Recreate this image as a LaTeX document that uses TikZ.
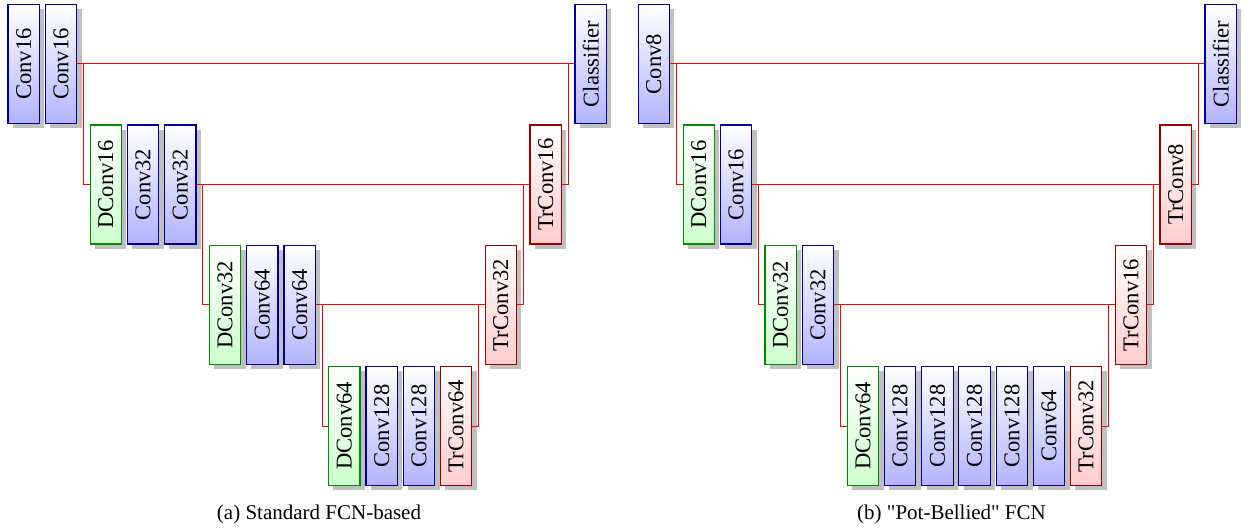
\documentclass[tikz,border=0pt]{standalone}
\usepackage{fontspec}
\setmainfont{Liberation Serif}[Ligatures=TeXOff]
\newfontfamily\tms{Liberation Serif}[Ligatures=TeXOff]
\usetikzlibrary{shadows}
\tikzset{
  blk/.style={rectangle, inner sep=0pt, minimum width=15.7pt, minimum height=59.5pt,
    line width=0.6pt, font=\tms\fontsize{11.3}{13}\selectfont,
    drop shadow={shadow xshift=2.4pt, shadow yshift=-2.4pt, fill=black!25, opacity=1}},
  convb/.style={blk, draw=blue!60!black, top color=white, bottom color=blue!30},
  dconvb/.style={blk, draw=green!55!black, top color=white, bottom color=green!20},
  trb/.style={blk, draw=red!60!black, top color=white, bottom color=red!20},
  conn/.style={draw=red, line width=0.5pt},
  capt/.style={font=\tms\fontsize{10.5}{12}\selectfont},
}
\newcommand{\rt}[1]{\rotatebox{90}{#1}}
\begin{document}
\begin{tikzpicture}[x=0.5pt, y=-0.5pt]
\useasboundingbox (0,0) rectangle (1245,528);
% ---------- (a) ----------
\node[convb]  (a1)   at (23.7,64)   {\rt{Conv16}};
\node[convb]  (a2)   at (61,64)     {\rt{Conv16}};
\node[dconvb] (ad16) at (105.8,184.5) {\rt{DConv16}};
\node[convb]  (a4)   at (143,184.5) {\rt{Conv32}};
\node[convb]  (a5)   at (180.2,184.5) {\rt{Conv32}};
\node[dconvb] (ad32) at (225,305)   {\rt{DConv32}};
\node[convb]  (a7)   at (262.3,305) {\rt{Conv64}};
\node[convb]  (a8)   at (299.7,305) {\rt{Conv64}};
\node[dconvb] (ad64) at (344.3,426) {\rt{DConv64}};
\node[convb]  (a10)  at (381.7,426) {\rt{Conv128}};
\node[convb]  (a11)  at (419,426)   {\rt{Conv128}};
\node[trb]    (atr64) at (456,426)  {\rt{TrConv64}};
\node[trb]    (atr32) at (500.8,305) {\rt{TrConv32}};
\node[trb]    (atr16) at (545.7,184.5) {\rt{TrConv16}};
\node[convb]  (acls) at (590.7,64)  {\rt{Classifier}};
% ---------- (b) ----------
\node[convb]  (b1)   at (653.8,64)  {\rt{Conv8}};
\node[dconvb] (bd16) at (698.8,184.5) {\rt{DConv16}};
\node[convb]  (b3)   at (736,184.5) {\rt{Conv16}};
\node[dconvb] (bd32) at (780.6,305) {\rt{DConv32}};
\node[convb]  (b5)   at (818,305)   {\rt{Conv32}};
\node[dconvb] (bd64) at (863,426)   {\rt{DConv64}};
\node[convb]  (b7)   at (900,426)   {\rt{Conv128}};
\node[convb]  (b8)   at (937.5,426) {\rt{Conv128}};
\node[convb]  (b9)   at (974.5,426) {\rt{Conv128}};
\node[convb]  (b10)  at (1012,426)  {\rt{Conv128}};
\node[convb]  (b11)  at (1049,426)  {\rt{Conv64}};
\node[trb]    (btr32) at (1086,426) {\rt{TrConv32}};
\node[trb]    (btr16) at (1131,305) {\rt{TrConv16}};
\node[trb]    (btr8) at (1175.7,184.5) {\rt{TrConv8}};
\node[convb]  (bcls) at (1220.7,64) {\rt{Classifier}};
% ---------- connectors (a) ----------
\draw[conn] (a2.east) -- (acls.west);
\draw[conn] (a2.east) -- ++(3pt,0) |- (ad16.west);
\draw[conn] (atr16.east) -- ++(3pt,0) |- (acls.west);
\draw[conn] (a5.east) -- (atr16.west);
\draw[conn] (a5.east) -- ++(3pt,0) |- (ad32.west);
\draw[conn] (atr32.east) -- ++(3pt,0) |- (atr16.west);
\draw[conn] (a8.east) -- (atr32.west);
\draw[conn] (a8.east) -- ++(3pt,0) |- (ad64.west);
\draw[conn] (atr64.east) -- ++(3pt,0) |- (atr32.west);
% ---------- connectors (b) ----------
\draw[conn] (b1.east) -- (bcls.west);
\draw[conn] (b1.east) -- ++(3pt,0) |- (bd16.west);
\draw[conn] (btr8.east) -- ++(3pt,0) |- (bcls.west);
\draw[conn] (b3.east) -- (btr8.west);
\draw[conn] (b3.east) -- ++(3pt,0) |- (bd32.west);
\draw[conn] (btr16.east) -- ++(3pt,0) |- (btr8.west);
\draw[conn] (b5.east) -- (btr16.west);
\draw[conn] (b5.east) -- ++(3pt,0) |- (bd64.west);
\draw[conn] (btr32.east) -- ++(3pt,0) |- (btr16.west);
% ---------- captions ----------
\node[capt] (capa) at (319,514) {(a) Standard FCN-based};
\node[capt] (capb) at (951.5,514) {(b) "Pot-Bellied" FCN};
\end{tikzpicture}
\end{document}
